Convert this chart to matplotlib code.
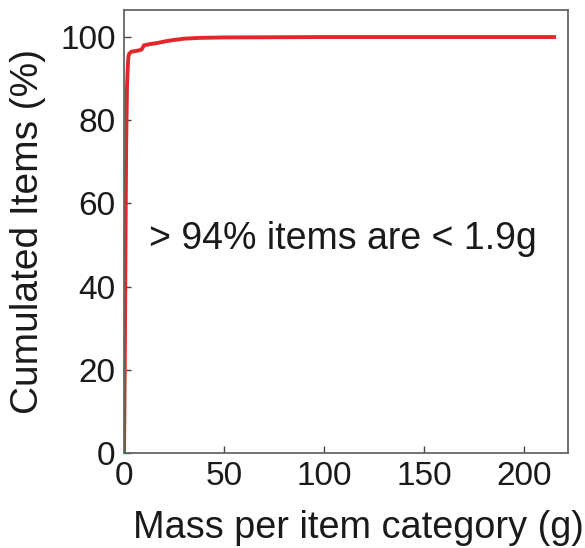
import matplotlib
matplotlib.use("Agg")
import matplotlib.pyplot as plt

# Cumulative distribution of items by mass per item category
mass_g = [0, 0.2, 0.5, 0.8, 1.1, 1.5, 1.9, 2.2, 2.6, 3.8, 5.5, 7.5, 8.8, 10, 12, 13, 17, 21, 25, 30, 38, 50, 100, 150, 215]
cum_pct = [0, 10, 30, 55, 75, 88, 93, 95.2, 96.0, 96.5, 96.6, 96.8, 97.0, 98.0, 98.2, 98.3, 98.6, 99.0, 99.3, 99.6, 99.8, 99.9, 100, 100, 100]

x_ticks = [0, 50, 100, 150, 200]
y_ticks = [0, 20, 40, 60, 80, 100]
annotation = "> 94% items are < 1.9g"
x_label = "Mass per item category (g)"
y_label = "Cumulated Items (%)"

plt.rcParams['font.family'] = ['Liberation Sans', 'DejaVu Sans']

fig = plt.figure(figsize=(5.85, 5.48), dpi=100)
ax = fig.add_axes([124/585, 95/548, 444/585, 443/548])

ax.plot(mass_g, cum_pct, color='#e0282a', lw=2.8, solid_joinstyle='miter')

ax.set_xlim(0, 222)
ax.set_ylim(0, 106.5)
ax.set_xticks(x_ticks)
ax.set_yticks(y_ticks)
ax.tick_params(direction='in', length=5, width=1, colors='#444444',
               labelcolor='#1a1a1a', labelsize=24, pad=6,
               top=False, right=False)
for s in ax.spines.values():
    s.set_color('#666666')
    s.set_linewidth(1.3)

ax.set_xlabel(x_label, fontsize=27.3, color='#1a1a1a', labelpad=12)
ax.xaxis.set_label_coords(0.527, -0.128)
ax.set_ylabel(y_label, fontsize=28, color='#1a1a1a', labelpad=10)

ax.text(12.5, 51.5, annotation, fontsize=27, color='#1a1a1a', va='center', ha='left')

fig.savefig('out.png', dpi=100, facecolor='white')
